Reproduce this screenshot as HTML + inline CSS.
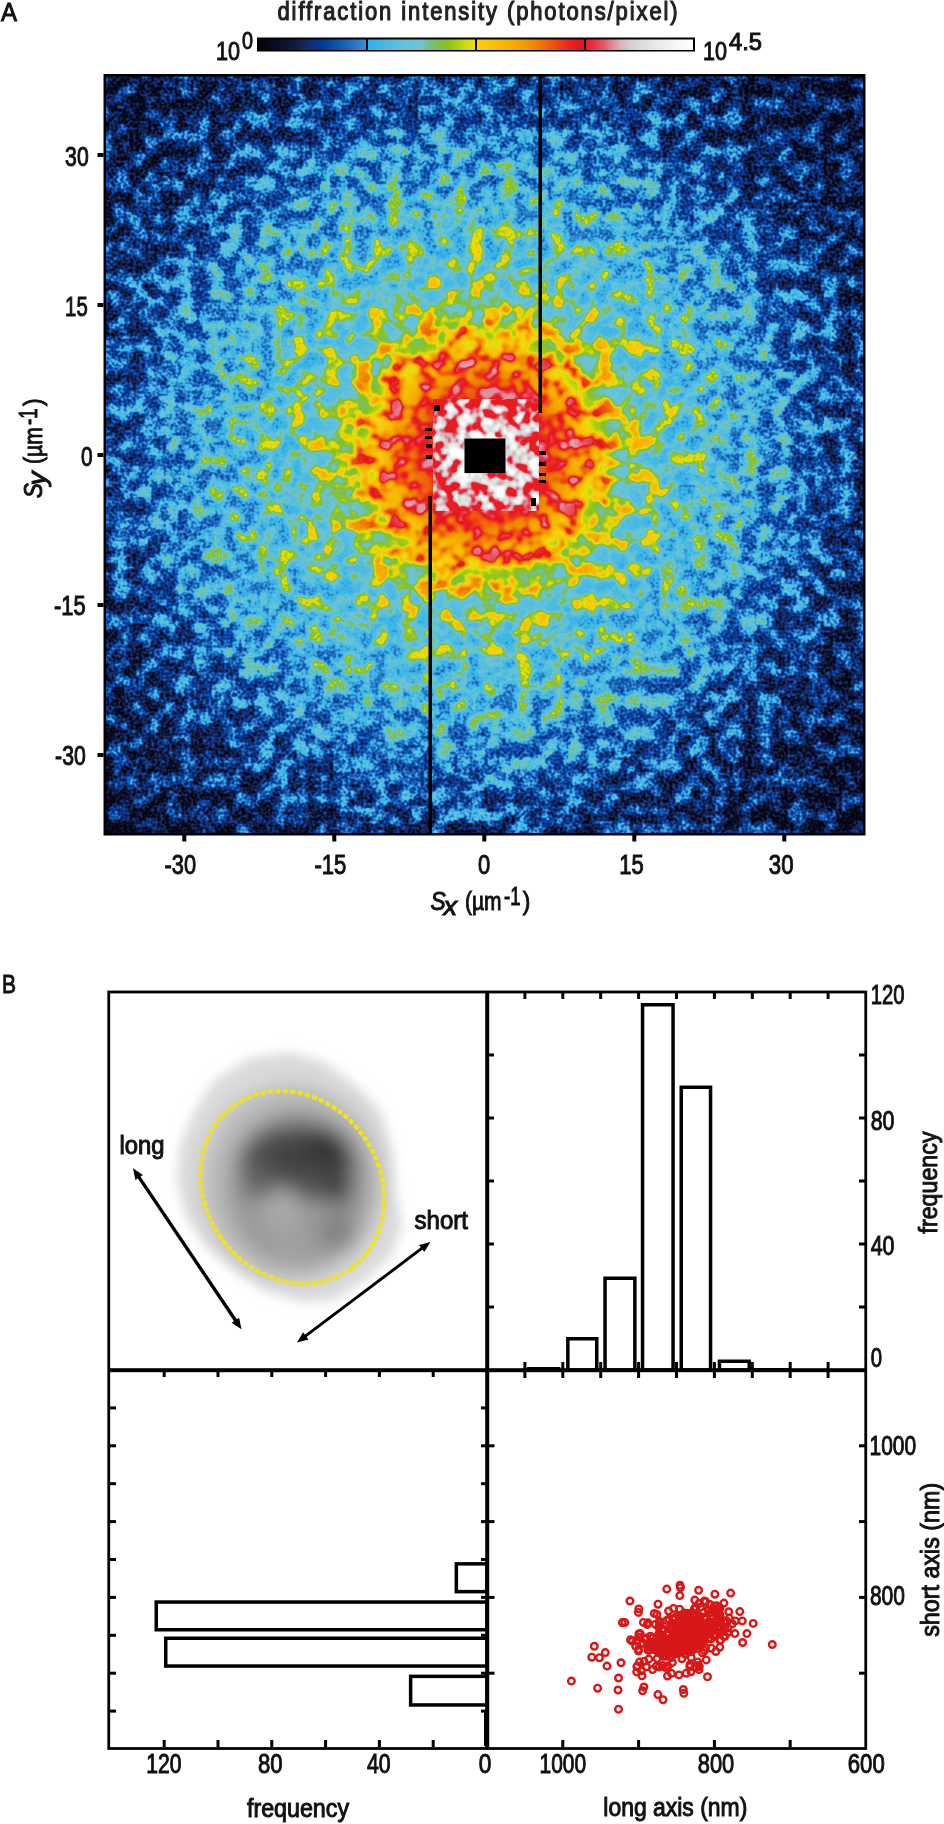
<!DOCTYPE html>
<html><head><meta charset="utf-8"><title>Figure</title>
<style>html,body{margin:0;padding:0;background:#fff;width:944px;height:1824px;overflow:hidden} svg{display:block;will-change:transform} text{font-family:"Liberation Sans", sans-serif}</style>
</head><body>
<svg width="944" height="1824" viewBox="0 0 944 1824" font-family='"Liberation Sans", sans-serif'><defs>
<linearGradient id="cb1" x1="0" x2="1" y1="0" y2="0"><stop offset="0.000" stop-color="rgb(5,5,16)"/><stop offset="0.083" stop-color="rgb(7,8,25)"/><stop offset="0.167" stop-color="rgb(9,11,34)"/><stop offset="0.250" stop-color="rgb(13,19,47)"/><stop offset="0.333" stop-color="rgb(18,27,62)"/><stop offset="0.417" stop-color="rgb(23,38,83)"/><stop offset="0.500" stop-color="rgb(17,47,123)"/><stop offset="0.583" stop-color="rgb(0,56,152)"/><stop offset="0.667" stop-color="rgb(10,71,162)"/><stop offset="0.750" stop-color="rgb(20,87,174)"/><stop offset="0.833" stop-color="rgb(28,105,187)"/><stop offset="0.917" stop-color="rgb(42,124,201)"/><stop offset="1.000" stop-color="rgb(58,144,216)"/></linearGradient>
<linearGradient id="cb2" x1="0" x2="1" y1="0" y2="0"><stop offset="0.000" stop-color="rgb(48,176,232)"/><stop offset="0.083" stop-color="rgb(61,181,229)"/><stop offset="0.167" stop-color="rgb(75,186,225)"/><stop offset="0.250" stop-color="rgb(86,190,222)"/><stop offset="0.333" stop-color="rgb(96,193,219)"/><stop offset="0.417" stop-color="rgb(105,196,215)"/><stop offset="0.500" stop-color="rgb(112,196,208)"/><stop offset="0.583" stop-color="rgb(115,192,131)"/><stop offset="0.667" stop-color="rgb(131,192,59)"/><stop offset="0.750" stop-color="rgb(144,192,32)"/><stop offset="0.833" stop-color="rgb(171,205,19)"/><stop offset="0.917" stop-color="rgb(208,219,16)"/><stop offset="1.000" stop-color="rgb(240,224,0)"/></linearGradient>
<linearGradient id="cb3" x1="0" x2="1" y1="0" y2="0"><stop offset="0.000" stop-color="rgb(248,208,16)"/><stop offset="0.083" stop-color="rgb(248,199,12)"/><stop offset="0.167" stop-color="rgb(248,191,7)"/><stop offset="0.250" stop-color="rgb(248,182,3)"/><stop offset="0.333" stop-color="rgb(247,172,0)"/><stop offset="0.417" stop-color="rgb(244,159,0)"/><stop offset="0.500" stop-color="rgb(240,146,0)"/><stop offset="0.583" stop-color="rgb(240,121,6)"/><stop offset="0.667" stop-color="rgb(240,95,12)"/><stop offset="0.750" stop-color="rgb(238,70,19)"/><stop offset="0.833" stop-color="rgb(234,45,28)"/><stop offset="0.917" stop-color="rgb(232,27,32)"/><stop offset="1.000" stop-color="rgb(232,16,32)"/></linearGradient>
<linearGradient id="cb4" x1="0" x2="1" y1="0" y2="0"><stop offset="0.000" stop-color="rgb(232,32,48)"/><stop offset="0.083" stop-color="rgb(232,55,71)"/><stop offset="0.167" stop-color="rgb(230,87,102)"/><stop offset="0.250" stop-color="rgb(221,140,151)"/><stop offset="0.333" stop-color="rgb(216,183,189)"/><stop offset="0.417" stop-color="rgb(216,203,206)"/><stop offset="0.500" stop-color="rgb(219,219,219)"/><stop offset="0.583" stop-color="rgb(226,226,226)"/><stop offset="0.667" stop-color="rgb(234,234,234)"/><stop offset="0.750" stop-color="rgb(240,240,240)"/><stop offset="0.833" stop-color="rgb(245,245,245)"/><stop offset="0.917" stop-color="rgb(250,250,250)"/><stop offset="1.000" stop-color="rgb(255,255,255)"/></linearGradient>
<radialGradient id="rg" gradientUnits="userSpaceOnUse" cx="466" cy="447" fx="487" fy="456" r="560"><stop offset="0.0000" stop-color="rgb(201.0,0.0,127.5)"/><stop offset="0.0714" stop-color="rgb(182.7,0.0,127.5)"/><stop offset="0.0982" stop-color="rgb(171.9,0.0,114.8)"/><stop offset="0.1250" stop-color="rgb(166.2,0.0,140.2)"/><stop offset="0.1607" stop-color="rgb(153.8,0.0,204.0)"/><stop offset="0.1964" stop-color="rgb(135.2,12.8,242.2)"/><stop offset="0.2321" stop-color="rgb(115.2,25.5,242.2)"/><stop offset="0.2679" stop-color="rgb(100.7,38.2,229.5)"/><stop offset="0.3214" stop-color="rgb(88.1,63.8,216.8)"/><stop offset="0.3929" stop-color="rgb(77.3,102.0,204.0)"/><stop offset="0.4464" stop-color="rgb(68.6,127.5,198.9)"/><stop offset="0.5000" stop-color="rgb(59.9,153.0,193.8)"/><stop offset="0.5536" stop-color="rgb(49.8,178.5,183.6)"/><stop offset="0.6250" stop-color="rgb(37.0,204.0,173.4)"/><stop offset="0.7143" stop-color="rgb(28.2,216.8,158.1)"/><stop offset="0.8036" stop-color="rgb(23.5,216.8,147.9)"/><stop offset="0.8929" stop-color="rgb(22.5,204.0,137.7)"/><stop offset="1.0000" stop-color="rgb(18.8,204.0,127.5)"/></radialGradient>
<filter id="diff" filterUnits="userSpaceOnUse" x="104" y="75" width="761" height="760" color-interpolation-filters="sRGB">
<feTurbulence type="fractalNoise" baseFrequency="0.062" numOctaves="2" seed="11" result="t1"/>
<feColorMatrix in="t1" type="matrix" values="0 0 0 0 0  0 0 0 0 0  1 0 0 0 0  0 0 0 0 1" result="s0"/>
<feComponentTransfer in="s0" result="s1"><feFuncB type="linear" slope="2.4" intercept="-0.7"/></feComponentTransfer>
<feComponentTransfer in="s1" result="s2"><feFuncB type="table" tableValues="0.0 0.025 0.076 0.146 0.231 0.33 0.442 0.565 0.7 0.845 1.0"/></feComponentTransfer>
<feTurbulence type="fractalNoise" baseFrequency="0.33" numOctaves="1" seed="5" result="t2"/>
<feColorMatrix in="t2" type="matrix" values="0 0 0 0 1  0 1 0 0 0  0 0 0 0 0  0 0 0 0 1" result="f0"/>
<feComposite in="s2" in2="f0" operator="arithmetic" k1="0" k2="1" k3="1" k4="0" result="N"/>
<feComposite in="SourceGraphic" in2="N" operator="arithmetic" k1="1" k2="0" k3="0" k4="0" result="P"/>
<feColorMatrix in="P" type="matrix" values="1.4 0.4 0.3 0 -0.26  1.4 0.4 0.3 0 -0.26  1.4 0.4 0.3 0 -0.26  0 0 0 0 1" result="V"/>
<feComponentTransfer in="V"><feFuncR type="table" tableValues="0.020 0.025 0.030 0.040 0.053 0.068 0.088 0.080 0.056 0.001 0.031 0.062 0.089 0.115 0.156 0.206 0.198 0.238 0.278 0.317 0.347 0.376 0.406 0.427 0.439 0.453 0.502 0.542 0.600 0.679 0.793 0.901 0.973 0.973 0.973 0.973 0.973 0.968 0.958 0.948 0.941 0.941 0.941 0.939 0.927 0.914 0.910 0.910 0.910 0.910 0.904 0.879 0.854 0.847 0.847 0.851 0.874 0.897 0.920 0.940 0.955 0.970 0.985 1.000"/><feFuncG type="table" tableValues="0.020 0.028 0.036 0.054 0.077 0.103 0.135 0.164 0.192 0.221 0.267 0.313 0.366 0.419 0.477 0.538 0.694 0.709 0.724 0.738 0.748 0.758 0.768 0.769 0.763 0.753 0.753 0.753 0.770 0.810 0.850 0.878 0.811 0.784 0.758 0.731 0.705 0.672 0.632 0.592 0.540 0.460 0.381 0.302 0.227 0.152 0.104 0.071 0.156 0.228 0.320 0.481 0.643 0.734 0.797 0.851 0.874 0.897 0.920 0.940 0.955 0.970 0.985 1.000"/><feFuncB type="table" tableValues="0.063 0.089 0.116 0.151 0.191 0.235 0.293 0.395 0.513 0.597 0.627 0.658 0.698 0.738 0.781 0.827 0.907 0.897 0.887 0.877 0.867 0.858 0.848 0.828 0.730 0.497 0.250 0.170 0.108 0.068 0.063 0.040 0.060 0.047 0.034 0.020 0.007 0.000 0.000 0.000 0.006 0.026 0.046 0.067 0.092 0.117 0.125 0.125 0.219 0.290 0.379 0.529 0.678 0.757 0.807 0.851 0.874 0.897 0.920 0.940 0.955 0.970 0.985 1.000"/></feComponentTransfer>
</filter>
<filter id="ctr" filterUnits="userSpaceOnUse" x="430" y="396" width="112" height="118" color-interpolation-filters="sRGB">
<feTurbulence type="fractalNoise" baseFrequency="0.085" numOctaves="2" seed="21" result="t"/>
<feColorMatrix in="t" type="matrix" values="1 0 0 0 0  1 0 0 0 0  1 0 0 0 0  0 0 0 0 1" result="t1"/>
<feComposite in="SourceGraphic" in2="t1" operator="arithmetic" k1="0" k2="1" k3="2.6" k4="-1.62" result="u"/>
<feComponentTransfer in="u"><feFuncR type="table" tableValues="0.910 0.910 0.910 0.910 0.910 0.910 0.910 0.910 0.900 0.887 0.873 0.859 0.847 0.847 0.847 0.847 0.847 0.855 0.868 0.881 0.894 0.906 0.919 0.932 0.941 0.949 0.958 0.966 0.975 0.983 0.992 1.000"/><feFuncG type="table" tableValues="0.115 0.096 0.078 0.083 0.150 0.190 0.230 0.269 0.343 0.434 0.524 0.615 0.696 0.731 0.765 0.800 0.835 0.855 0.868 0.881 0.894 0.906 0.919 0.932 0.941 0.949 0.958 0.966 0.975 0.983 0.992 1.000"/><feFuncB type="table" tableValues="0.125 0.125 0.125 0.146 0.213 0.253 0.292 0.332 0.401 0.485 0.568 0.652 0.726 0.754 0.782 0.810 0.837 0.855 0.868 0.881 0.894 0.906 0.919 0.932 0.941 0.949 0.958 0.966 0.975 0.983 0.992 1.000"/></feComponentTransfer>
<feComposite in2="SourceGraphic" operator="in"/>
</filter>
<filter id="blur6" x="-50%" y="-50%" width="200%" height="200%"><feGaussianBlur stdDeviation="6"/></filter>
<filter id="blur10" x="-50%" y="-50%" width="200%" height="200%"><feGaussianBlur stdDeviation="10"/></filter>
<filter id="blur12" x="-50%" y="-50%" width="200%" height="200%"><feGaussianBlur stdDeviation="12"/></filter>
<filter id="blur7" x="-50%" y="-50%" width="200%" height="200%"><feGaussianBlur stdDeviation="7"/></filter>
<marker id="ah" viewBox="0 0 10 10" refX="9" refY="5" markerWidth="4" markerHeight="4" orient="auto-start-reverse"><path d="M0,0 L10,5 L0,10 z" fill="#000"/></marker>
</defs>
<text x="1" y="21" font-size="26" text-anchor="start" font-weight="normal" fill="#111" stroke="#111" stroke-width="1.0" textLength="16" lengthAdjust="spacingAndGlyphs" >A</text>
<text x="277.5" y="20" font-size="25.5" text-anchor="start" font-weight="normal" fill="#222" stroke="#222" stroke-width="1.2" textLength="402" lengthAdjust="spacingAndGlyphs" letter-spacing="2.2">diffraction intensity (photons/pixel)</text>
<rect x="257" y="37.5" width="438" height="14" fill="#000"/>
<rect x="259" y="39.5" width="107" height="10.5" fill="url(#cb1)"/>
<rect x="368" y="39.5" width="107" height="10.5" fill="url(#cb2)"/>
<rect x="477" y="39.5" width="107" height="10.5" fill="url(#cb3)"/>
<rect x="586" y="39.5" width="107" height="10.5" fill="url(#cb4)"/>
<text x="216" y="59.5" font-size="26" text-anchor="start" font-weight="normal" fill="#111" stroke="#111" stroke-width="1.0" textLength="24" lengthAdjust="spacingAndGlyphs" >10</text>
<text x="242" y="49" font-size="24" text-anchor="start" font-weight="normal" fill="#111" stroke="#111" stroke-width="1.0" textLength="11" lengthAdjust="spacingAndGlyphs" >0</text>
<text x="703" y="60" font-size="26" text-anchor="start" font-weight="normal" fill="#111" stroke="#111" stroke-width="1.0" textLength="24" lengthAdjust="spacingAndGlyphs" >10</text>
<text x="729" y="50" font-size="24" text-anchor="start" font-weight="normal" fill="#111" stroke="#111" stroke-width="1.0" textLength="33" lengthAdjust="spacingAndGlyphs" >4.5</text>
<g filter="url(#diff)"><rect x="104" y="75" width="761" height="760" fill="url(#rg)"/><rect x="434" y="400" width="104" height="110" fill="rgb(183.3,0,255)"/></g>
<radialGradient id="cg" gradientUnits="userSpaceOnUse" cx="485" cy="456" r="75"><stop offset="0.3" stop-color="#fff"/><stop offset="0.72" stop-color="rgb(150,150,150)"/><stop offset="1" stop-color="rgb(110,110,110)"/></radialGradient>
<rect x="433" y="399" width="106" height="112" fill="url(#cg)" filter="url(#ctr)"/>
<rect x="464.5" y="438.5" width="41" height="34.5" fill="#000"/>
<rect x="538.5" y="75" width="3.5" height="338" fill="#000"/>
<rect x="428.5" y="496" width="3.5" height="339" fill="#000"/>
<rect x="434" y="405" width="6" height="6" fill="#000"/>
<rect x="425" y="428" width="7" height="3" fill="#000"/>
<rect x="425" y="436" width="7" height="3" fill="#000"/>
<rect x="426" y="444" width="6" height="4" fill="#000"/>
<rect x="426" y="455" width="6" height="4" fill="#000"/>
<rect x="539" y="451" width="7" height="4" fill="#000"/>
<rect x="539" y="462" width="7" height="4" fill="#000"/>
<rect x="539" y="473" width="7" height="3" fill="#000"/>
<rect x="539" y="480" width="7" height="3" fill="#000"/>
<rect x="531" y="498" width="5" height="8" fill="#000"/>
<rect x="104.75" y="75.25" width="759.5" height="759" fill="none" stroke="#000" stroke-width="2.5"/>
<rect x="97.5" y="153" width="6" height="4" fill="#000"/>
<rect x="97.5" y="303" width="6" height="4" fill="#000"/>
<rect x="97.5" y="453" width="6" height="4" fill="#000"/>
<rect x="97.5" y="603" width="6" height="4" fill="#000"/>
<rect x="97.5" y="753" width="6" height="4" fill="#000"/>
<rect x="182.3" y="835" width="4" height="6.5" fill="#000"/>
<rect x="332.3" y="835" width="4" height="6.5" fill="#000"/>
<rect x="482.3" y="835" width="4" height="6.5" fill="#000"/>
<rect x="632.3" y="835" width="4" height="6.5" fill="#000"/>
<rect x="782.3" y="835" width="4" height="6.5" fill="#000"/>
<text x="65.1" y="165.5" font-size="27" text-anchor="start" font-weight="normal" fill="#111" stroke="#111" stroke-width="1.0" textLength="23.6" lengthAdjust="spacingAndGlyphs" >30</text>
<text x="65.1" y="315.5" font-size="27" text-anchor="start" font-weight="normal" fill="#111" stroke="#111" stroke-width="1.0" textLength="22.6" lengthAdjust="spacingAndGlyphs" >15</text>
<text x="81.1" y="465.5" font-size="27" text-anchor="start" font-weight="normal" fill="#111" stroke="#111" stroke-width="1.0" textLength="11.6" lengthAdjust="spacingAndGlyphs" >0</text>
<text x="54.1" y="615" font-size="27" text-anchor="start" font-weight="normal" fill="#111" stroke="#111" stroke-width="1.0" textLength="31.6" lengthAdjust="spacingAndGlyphs" >-15</text>
<text x="55.1" y="765" font-size="27" text-anchor="start" font-weight="normal" fill="#111" stroke="#111" stroke-width="1.0" textLength="30.6" lengthAdjust="spacingAndGlyphs" >-30</text>
<text x="164.5" y="873.8" font-size="27" text-anchor="start" font-weight="normal" fill="#111" stroke="#111" stroke-width="1.0" textLength="31.500000000000007" lengthAdjust="spacingAndGlyphs" >-30</text>
<text x="314.40000000000003" y="873.8" font-size="27" text-anchor="start" font-weight="normal" fill="#111" stroke="#111" stroke-width="1.0" textLength="31.900000000000013" lengthAdjust="spacingAndGlyphs" >-15</text>
<text x="478.1" y="873.8" font-size="27" text-anchor="start" font-weight="normal" fill="#111" stroke="#111" stroke-width="1.0" textLength="12.200000000000022" lengthAdjust="spacingAndGlyphs" >0</text>
<text x="619.3000000000001" y="873.8" font-size="27" text-anchor="start" font-weight="normal" fill="#111" stroke="#111" stroke-width="1.0" textLength="24.399999999999956" lengthAdjust="spacingAndGlyphs" >15</text>
<text x="768.8000000000001" y="873.8" font-size="27" text-anchor="start" font-weight="normal" fill="#111" stroke="#111" stroke-width="1.0" textLength="24.69999999999991" lengthAdjust="spacingAndGlyphs" >30</text>
<g transform="translate(431.4,910)"><text x="-0.8" y="0" font-size="26" text-anchor="start" font-weight="normal" fill="#111" stroke="#111" stroke-width="1.0" textLength="15.2" lengthAdjust="spacingAndGlyphs" font-style="italic">S</text><text x="12.2" y="5.3" font-size="26" text-anchor="start" font-weight="normal" fill="#111" stroke="#111" stroke-width="1.0" textLength="13.6" lengthAdjust="spacingAndGlyphs" font-style="italic">x</text><text x="33.6" y="0" font-size="26" text-anchor="start" font-weight="normal" fill="#111" stroke="#111" stroke-width="1.0" textLength="36.6" lengthAdjust="spacingAndGlyphs" >(µm</text><text x="72.6" y="-5.5" font-size="26" text-anchor="start" font-weight="normal" fill="#111" stroke="#111" stroke-width="1.0" textLength="16.5" lengthAdjust="spacingAndGlyphs" >-1</text><text x="91.4" y="0" font-size="26" text-anchor="start" font-weight="normal" fill="#111" stroke="#111" stroke-width="1.0" textLength="7.6" lengthAdjust="spacingAndGlyphs" >)</text></g>
<g transform="translate(42.3,497.5) rotate(-90)"><text x="-0.8" y="0" font-size="26" text-anchor="start" font-weight="normal" fill="#111" stroke="#111" stroke-width="1.0" textLength="15.2" lengthAdjust="spacingAndGlyphs" font-style="italic">S</text><text x="12.2" y="4.0" font-size="26" text-anchor="start" font-weight="normal" fill="#111" stroke="#111" stroke-width="1.0" textLength="13.6" lengthAdjust="spacingAndGlyphs" font-style="italic">y</text><text x="33.6" y="0" font-size="26" text-anchor="start" font-weight="normal" fill="#111" stroke="#111" stroke-width="1.0" textLength="36.6" lengthAdjust="spacingAndGlyphs" >(µm</text><text x="72.6" y="-5.5" font-size="26" text-anchor="start" font-weight="normal" fill="#111" stroke="#111" stroke-width="1.0" textLength="16.5" lengthAdjust="spacingAndGlyphs" >-1</text><text x="91.4" y="0" font-size="26" text-anchor="start" font-weight="normal" fill="#111" stroke="#111" stroke-width="1.0" textLength="7.6" lengthAdjust="spacingAndGlyphs" >)</text></g>
<text x="2" y="992.5" font-size="26" text-anchor="start" font-weight="normal" fill="#111" stroke="#111" stroke-width="1.0" textLength="14" lengthAdjust="spacingAndGlyphs" >B</text>
<g filter="url(#blur6)"><path d="M250,1058 L290,1052 L325,1062 L355,1085 L380,1110 L392,1150 L395,1190 L402,1225 L392,1255 L365,1280 L335,1300 L300,1302 L265,1290 L235,1270 L205,1245 L185,1215 L177,1180 L180,1145 L195,1110 L215,1080 Z" fill="#dadada"/></g>
<g filter="url(#blur10)"><ellipse cx="292" cy="1182" rx="90" ry="98" fill="#bababa"/><ellipse cx="298" cy="1188" rx="72" ry="80" fill="#9a9a9a"/><ellipse cx="298" cy="1163" rx="58" ry="40" fill="#505050"/><ellipse cx="325" cy="1150" rx="22" ry="20" fill="#363636"/><ellipse cx="290" cy="1157" rx="20" ry="15" fill="#404040"/><ellipse cx="258" cy="1182" rx="16" ry="18" fill="#606060"/><ellipse cx="338" cy="1185" rx="15" ry="21" fill="#454545"/><ellipse cx="338" cy="1232" rx="18" ry="18" fill="#808080"/><ellipse cx="282" cy="1210" rx="22" ry="22" fill="#a8a8a8"/><ellipse cx="292" cy="1248" rx="20" ry="14" fill="#a2a2a2"/></g>
<ellipse cx="292.4" cy="1187.2" rx="100.2" ry="87.6" transform="rotate(55 292.4 1187.2)" fill="none" stroke="#f2e21e" stroke-width="4.8" stroke-linecap="round" stroke-dasharray="0.9 6.5"/>
<line x1="137.9" y1="1175.6" x2="236.6" y2="1322.0" stroke="#000" stroke-width="3.4"/><path d="M133.0,1168.3 L135.4,1179.9 L142.9,1174.9 Z" fill="#000"/><path d="M241.5,1329.3 L231.6,1322.7 L239.1,1317.7 Z" fill="#000"/>
<line x1="304.0" y1="1337.2" x2="423.4" y2="1247.2" stroke="#000" stroke-width="2.9"/><path d="M297.0,1342.5 L308.5,1339.5 L303.1,1332.3 Z" fill="#000"/><path d="M430.4,1241.9 L424.3,1252.1 L418.9,1244.9 Z" fill="#000"/>
<text x="119.5" y="1154" font-size="25" text-anchor="start" font-weight="normal" fill="#111" stroke="#111" stroke-width="1.0" textLength="45" lengthAdjust="spacingAndGlyphs" >long</text>
<text x="414.5" y="1228.5" font-size="25" text-anchor="start" font-weight="normal" fill="#111" stroke="#111" stroke-width="1.0" textLength="53.5" lengthAdjust="spacingAndGlyphs" >short</text>
<rect x="528.75" y="1368.75" width="29.899999999999977" height="1.25" fill="#fff" stroke="#000" stroke-width="3.5"/>
<rect x="567.85" y="1338.75" width="28.899999999999977" height="31.25" fill="#fff" stroke="#000" stroke-width="3.5"/>
<rect x="605.05" y="1278.25" width="29.800000000000068" height="91.75" fill="#fff" stroke="#000" stroke-width="3.5"/>
<rect x="642.55" y="1004.75" width="30.5" height="365.25" fill="#fff" stroke="#000" stroke-width="3.5"/>
<rect x="681.25" y="1087.25" width="29.299999999999955" height="282.75" fill="#fff" stroke="#000" stroke-width="3.5"/>
<rect x="719.45" y="1361.25" width="29.799999999999955" height="8.75" fill="#fff" stroke="#000" stroke-width="3.5"/>
<rect x="755.95" y="1369.75" width="31.5" height="0.25" fill="#fff" stroke="#000" stroke-width="3.5"/>
<rect x="456.35" y="1563.85" width="30.649999999999977" height="27.800000000000182" fill="#fff" stroke="#000" stroke-width="3.5"/>
<rect x="156.25" y="1602.05" width="330.75" height="27.700000000000045" fill="#fff" stroke="#000" stroke-width="3.5"/>
<rect x="165.75" y="1638.25" width="321.25" height="27.799999999999955" fill="#fff" stroke="#000" stroke-width="3.5"/>
<rect x="410.65" y="1676.35" width="76.35000000000002" height="28.600000000000136" fill="#fff" stroke="#000" stroke-width="3.5"/>
<rect x="485.75" y="1713.35" width="1.25" height="30.90000000000009" fill="#fff" stroke="#000" stroke-width="3.5"/>
<g fill="none" stroke="#d81818" stroke-width="2.4"><circle cx="571.4" cy="1681.1" r="3.3"/><circle cx="597.6" cy="1688.2" r="3.3"/><circle cx="618.5" cy="1709.3" r="3.3"/><circle cx="618.0" cy="1690.0" r="3.3"/><circle cx="594.3" cy="1646.3" r="3.3"/><circle cx="591.8" cy="1657.2" r="3.3"/><circle cx="599.4" cy="1657.7" r="3.3"/><circle cx="605.3" cy="1652.6" r="3.3"/><circle cx="607.0" cy="1666.1" r="3.3"/><circle cx="629.9" cy="1601.0" r="3.3"/><circle cx="638.8" cy="1608.9" r="3.3"/><circle cx="622.3" cy="1622.6" r="3.3"/><circle cx="624.8" cy="1622.6" r="3.3"/><circle cx="666.8" cy="1589.1" r="3.3"/><circle cx="680.0" cy="1585.3" r="3.3"/><circle cx="680.5" cy="1587.5" r="3.3"/><circle cx="698.6" cy="1590.3" r="3.3"/><circle cx="753.2" cy="1623.4" r="3.3"/><circle cx="746.9" cy="1633.6" r="3.3"/><circle cx="742.6" cy="1642.5" r="3.3"/><circle cx="772.3" cy="1644.5" r="3.3"/><circle cx="735.4" cy="1620.9" r="3.3"/><circle cx="657.9" cy="1694.6" r="3.3"/><circle cx="663.0" cy="1699.7" r="3.3"/><circle cx="683.3" cy="1689.5" r="3.3"/><circle cx="683.8" cy="1693.3" r="3.3"/><circle cx="643.9" cy="1687.0" r="3.3"/><circle cx="642.6" cy="1690.8" r="3.3"/><circle cx="621.0" cy="1662.8" r="3.3"/><circle cx="618.5" cy="1678.0" r="3.3"/><circle cx="707.5" cy="1676.8" r="3.3"/><circle cx="699.3" cy="1666.6" r="3.3"/><circle cx="691.0" cy="1671.7" r="3.3"/><circle cx="677.9" cy="1644.7" r="3.3"/><circle cx="678.6" cy="1632.1" r="3.3"/><circle cx="661.7" cy="1639.2" r="3.3"/><circle cx="710.7" cy="1632.5" r="3.3"/><circle cx="708.9" cy="1630.4" r="3.3"/><circle cx="693.5" cy="1634.6" r="3.3"/><circle cx="644.0" cy="1661.2" r="3.3"/><circle cx="696.2" cy="1638.4" r="3.3"/><circle cx="643.4" cy="1622.4" r="3.3"/><circle cx="662.6" cy="1635.1" r="3.3"/><circle cx="691.3" cy="1631.9" r="3.3"/><circle cx="696.5" cy="1621.2" r="3.3"/><circle cx="691.4" cy="1638.4" r="3.3"/><circle cx="668.1" cy="1666.1" r="3.3"/><circle cx="697.4" cy="1648.5" r="3.3"/><circle cx="669.1" cy="1628.9" r="3.3"/><circle cx="675.7" cy="1636.2" r="3.3"/><circle cx="699.2" cy="1633.7" r="3.3"/><circle cx="673.3" cy="1624.2" r="3.3"/><circle cx="671.5" cy="1657.5" r="3.3"/><circle cx="664.6" cy="1645.1" r="3.3"/><circle cx="694.2" cy="1609.2" r="3.3"/><circle cx="685.2" cy="1654.2" r="3.3"/><circle cx="635.7" cy="1646.3" r="3.3"/><circle cx="681.5" cy="1623.6" r="3.3"/><circle cx="695.9" cy="1630.1" r="3.3"/><circle cx="648.8" cy="1659.1" r="3.3"/><circle cx="700.1" cy="1643.8" r="3.3"/><circle cx="718.6" cy="1628.9" r="3.3"/><circle cx="686.9" cy="1614.6" r="3.3"/><circle cx="698.8" cy="1620.9" r="3.3"/><circle cx="673.1" cy="1619.6" r="3.3"/><circle cx="660.8" cy="1634.8" r="3.3"/><circle cx="714.9" cy="1594.2" r="3.3"/><circle cx="649.0" cy="1650.3" r="3.3"/><circle cx="718.6" cy="1632.1" r="3.3"/><circle cx="638.4" cy="1612.4" r="3.3"/><circle cx="692.6" cy="1621.1" r="3.3"/><circle cx="657.1" cy="1658.6" r="3.3"/><circle cx="710.4" cy="1628.5" r="3.3"/><circle cx="689.9" cy="1639.5" r="3.3"/><circle cx="722.3" cy="1631.5" r="3.3"/><circle cx="696.4" cy="1639.1" r="3.3"/><circle cx="646.4" cy="1666.8" r="3.3"/><circle cx="706.9" cy="1635.3" r="3.3"/><circle cx="636.6" cy="1641.3" r="3.3"/><circle cx="704.2" cy="1601.1" r="3.3"/><circle cx="679.6" cy="1651.8" r="3.3"/><circle cx="652.5" cy="1669.6" r="3.3"/><circle cx="697.2" cy="1628.3" r="3.3"/><circle cx="691.8" cy="1642.1" r="3.3"/><circle cx="686.9" cy="1651.2" r="3.3"/><circle cx="668.1" cy="1634.1" r="3.3"/><circle cx="709.0" cy="1627.1" r="3.3"/><circle cx="662.9" cy="1656.2" r="3.3"/><circle cx="719.2" cy="1616.6" r="3.3"/><circle cx="650.9" cy="1644.0" r="3.3"/><circle cx="680.4" cy="1631.7" r="3.3"/><circle cx="717.7" cy="1608.4" r="3.3"/><circle cx="714.3" cy="1605.9" r="3.3"/><circle cx="665.1" cy="1650.8" r="3.3"/><circle cx="711.1" cy="1638.9" r="3.3"/><circle cx="692.3" cy="1634.4" r="3.3"/><circle cx="687.7" cy="1642.4" r="3.3"/><circle cx="679.8" cy="1640.6" r="3.3"/><circle cx="697.7" cy="1630.4" r="3.3"/><circle cx="702.3" cy="1637.4" r="3.3"/><circle cx="732.3" cy="1623.8" r="3.3"/><circle cx="673.7" cy="1632.8" r="3.3"/><circle cx="683.7" cy="1649.0" r="3.3"/><circle cx="675.9" cy="1643.5" r="3.3"/><circle cx="657.0" cy="1647.6" r="3.3"/><circle cx="693.6" cy="1635.4" r="3.3"/><circle cx="673.7" cy="1648.3" r="3.3"/><circle cx="690.8" cy="1624.9" r="3.3"/><circle cx="742.3" cy="1620.9" r="3.3"/><circle cx="670.7" cy="1637.9" r="3.3"/><circle cx="678.6" cy="1635.9" r="3.3"/><circle cx="708.2" cy="1609.4" r="3.3"/><circle cx="682.4" cy="1649.8" r="3.3"/><circle cx="704.5" cy="1650.5" r="3.3"/><circle cx="643.2" cy="1643.3" r="3.3"/><circle cx="675.8" cy="1647.1" r="3.3"/><circle cx="710.1" cy="1604.6" r="3.3"/><circle cx="700.4" cy="1607.2" r="3.3"/><circle cx="688.2" cy="1651.5" r="3.3"/><circle cx="680.4" cy="1639.1" r="3.3"/><circle cx="703.1" cy="1630.7" r="3.3"/><circle cx="681.9" cy="1658.7" r="3.3"/><circle cx="709.2" cy="1622.2" r="3.3"/><circle cx="706.0" cy="1623.7" r="3.3"/><circle cx="687.2" cy="1644.5" r="3.3"/><circle cx="689.3" cy="1642.8" r="3.3"/><circle cx="647.3" cy="1624.6" r="3.3"/><circle cx="698.8" cy="1615.6" r="3.3"/><circle cx="659.4" cy="1621.2" r="3.3"/><circle cx="714.4" cy="1636.1" r="3.3"/><circle cx="719.4" cy="1609.1" r="3.3"/><circle cx="684.0" cy="1617.9" r="3.3"/><circle cx="702.4" cy="1652.7" r="3.3"/><circle cx="662.6" cy="1665.5" r="3.3"/><circle cx="707.7" cy="1624.4" r="3.3"/><circle cx="636.7" cy="1671.9" r="3.3"/><circle cx="681.7" cy="1626.7" r="3.3"/><circle cx="693.6" cy="1638.0" r="3.3"/><circle cx="720.0" cy="1607.7" r="3.3"/><circle cx="711.3" cy="1648.2" r="3.3"/><circle cx="718.9" cy="1620.7" r="3.3"/><circle cx="666.1" cy="1656.2" r="3.3"/><circle cx="686.8" cy="1635.9" r="3.3"/><circle cx="718.2" cy="1619.7" r="3.3"/><circle cx="639.5" cy="1662.1" r="3.3"/><circle cx="691.6" cy="1623.3" r="3.3"/><circle cx="683.8" cy="1647.6" r="3.3"/><circle cx="685.9" cy="1654.3" r="3.3"/><circle cx="682.5" cy="1651.1" r="3.3"/><circle cx="719.8" cy="1647.2" r="3.3"/><circle cx="667.9" cy="1653.6" r="3.3"/><circle cx="639.0" cy="1633.8" r="3.3"/><circle cx="636.9" cy="1666.7" r="3.3"/><circle cx="654.4" cy="1644.7" r="3.3"/><circle cx="679.4" cy="1636.1" r="3.3"/><circle cx="669.8" cy="1643.2" r="3.3"/><circle cx="727.0" cy="1621.3" r="3.3"/><circle cx="696.7" cy="1645.8" r="3.3"/><circle cx="679.2" cy="1617.7" r="3.3"/><circle cx="670.7" cy="1655.5" r="3.3"/><circle cx="644.5" cy="1639.2" r="3.3"/><circle cx="708.2" cy="1638.8" r="3.3"/><circle cx="684.2" cy="1647.0" r="3.3"/><circle cx="688.0" cy="1616.0" r="3.3"/><circle cx="646.5" cy="1637.9" r="3.3"/><circle cx="706.1" cy="1619.1" r="3.3"/><circle cx="662.3" cy="1630.7" r="3.3"/><circle cx="647.2" cy="1645.5" r="3.3"/><circle cx="655.7" cy="1649.9" r="3.3"/><circle cx="668.6" cy="1611.0" r="3.3"/><circle cx="701.4" cy="1625.1" r="3.3"/><circle cx="630.5" cy="1639.7" r="3.3"/><circle cx="691.0" cy="1625.8" r="3.3"/><circle cx="702.7" cy="1640.0" r="3.3"/><circle cx="700.0" cy="1634.6" r="3.3"/><circle cx="716.0" cy="1634.2" r="3.3"/><circle cx="694.8" cy="1600.1" r="3.3"/><circle cx="705.5" cy="1647.5" r="3.3"/><circle cx="676.9" cy="1630.3" r="3.3"/><circle cx="730.6" cy="1593.1" r="3.3"/><circle cx="695.3" cy="1667.6" r="3.3"/><circle cx="661.7" cy="1652.8" r="3.3"/><circle cx="729.3" cy="1618.1" r="3.3"/><circle cx="697.5" cy="1644.0" r="3.3"/><circle cx="662.3" cy="1640.9" r="3.3"/><circle cx="691.0" cy="1645.0" r="3.3"/><circle cx="683.2" cy="1632.3" r="3.3"/><circle cx="659.6" cy="1637.7" r="3.3"/><circle cx="705.4" cy="1629.4" r="3.3"/><circle cx="663.5" cy="1629.2" r="3.3"/><circle cx="698.9" cy="1637.2" r="3.3"/><circle cx="724.4" cy="1627.9" r="3.3"/><circle cx="682.4" cy="1643.4" r="3.3"/><circle cx="637.3" cy="1666.1" r="3.3"/><circle cx="691.8" cy="1621.9" r="3.3"/><circle cx="715.8" cy="1651.5" r="3.3"/><circle cx="650.3" cy="1636.2" r="3.3"/><circle cx="691.0" cy="1635.4" r="3.3"/><circle cx="674.4" cy="1623.6" r="3.3"/><circle cx="734.9" cy="1633.6" r="3.3"/><circle cx="655.3" cy="1624.4" r="3.3"/><circle cx="724.9" cy="1636.2" r="3.3"/><circle cx="727.7" cy="1632.6" r="3.3"/><circle cx="663.1" cy="1645.9" r="3.3"/><circle cx="632.2" cy="1641.1" r="3.3"/><circle cx="682.6" cy="1643.3" r="3.3"/><circle cx="666.5" cy="1639.0" r="3.3"/><circle cx="695.0" cy="1637.0" r="3.3"/><circle cx="699.3" cy="1633.0" r="3.3"/><circle cx="676.2" cy="1649.4" r="3.3"/><circle cx="685.2" cy="1622.2" r="3.3"/><circle cx="669.0" cy="1640.0" r="3.3"/><circle cx="681.4" cy="1638.2" r="3.3"/><circle cx="684.0" cy="1637.6" r="3.3"/><circle cx="680.8" cy="1617.2" r="3.3"/><circle cx="694.1" cy="1647.4" r="3.3"/><circle cx="694.4" cy="1628.7" r="3.3"/><circle cx="694.7" cy="1616.9" r="3.3"/><circle cx="638.5" cy="1651.1" r="3.3"/><circle cx="661.7" cy="1653.5" r="3.3"/><circle cx="658.0" cy="1604.2" r="3.3"/><circle cx="659.1" cy="1667.0" r="3.3"/><circle cx="674.8" cy="1617.5" r="3.3"/><circle cx="665.7" cy="1648.9" r="3.3"/><circle cx="695.9" cy="1633.7" r="3.3"/><circle cx="719.6" cy="1633.7" r="3.3"/><circle cx="683.5" cy="1644.1" r="3.3"/><circle cx="723.7" cy="1636.3" r="3.3"/><circle cx="708.6" cy="1610.6" r="3.3"/><circle cx="680.4" cy="1647.1" r="3.3"/><circle cx="676.9" cy="1653.4" r="3.3"/><circle cx="698.3" cy="1643.9" r="3.3"/><circle cx="678.9" cy="1674.9" r="3.3"/><circle cx="713.8" cy="1621.8" r="3.3"/><circle cx="686.2" cy="1673.2" r="3.3"/><circle cx="675.8" cy="1650.9" r="3.3"/><circle cx="707.5" cy="1627.3" r="3.3"/><circle cx="656.0" cy="1647.2" r="3.3"/><circle cx="692.6" cy="1649.1" r="3.3"/><circle cx="702.8" cy="1629.1" r="3.3"/><circle cx="704.5" cy="1636.3" r="3.3"/><circle cx="688.9" cy="1634.2" r="3.3"/><circle cx="678.2" cy="1647.2" r="3.3"/><circle cx="658.7" cy="1634.0" r="3.3"/><circle cx="684.1" cy="1613.0" r="3.3"/><circle cx="673.5" cy="1608.4" r="3.3"/><circle cx="667.6" cy="1649.0" r="3.3"/><circle cx="697.6" cy="1629.7" r="3.3"/><circle cx="678.4" cy="1615.6" r="3.3"/><circle cx="727.9" cy="1628.1" r="3.3"/><circle cx="710.2" cy="1613.0" r="3.3"/><circle cx="679.6" cy="1609.2" r="3.3"/><circle cx="702.7" cy="1642.8" r="3.3"/><circle cx="638.5" cy="1649.4" r="3.3"/><circle cx="699.1" cy="1603.5" r="3.3"/><circle cx="640.2" cy="1633.6" r="3.3"/><circle cx="668.9" cy="1619.0" r="3.3"/><circle cx="684.8" cy="1638.5" r="3.3"/><circle cx="699.2" cy="1640.5" r="3.3"/><circle cx="720.1" cy="1640.4" r="3.3"/><circle cx="652.5" cy="1637.9" r="3.3"/><circle cx="658.6" cy="1627.3" r="3.3"/><circle cx="682.0" cy="1635.7" r="3.3"/><circle cx="695.8" cy="1607.3" r="3.3"/><circle cx="654.3" cy="1644.6" r="3.3"/><circle cx="679.2" cy="1631.9" r="3.3"/><circle cx="682.5" cy="1624.1" r="3.3"/><circle cx="700.8" cy="1634.7" r="3.3"/><circle cx="681.9" cy="1625.6" r="3.3"/><circle cx="679.8" cy="1595.6" r="3.3"/><circle cx="660.4" cy="1643.4" r="3.3"/><circle cx="647.9" cy="1650.0" r="3.3"/><circle cx="687.5" cy="1613.2" r="3.3"/><circle cx="678.0" cy="1632.3" r="3.3"/><circle cx="695.0" cy="1640.5" r="3.3"/><circle cx="683.1" cy="1622.5" r="3.3"/><circle cx="680.5" cy="1635.2" r="3.3"/><circle cx="701.6" cy="1633.5" r="3.3"/><circle cx="666.7" cy="1620.5" r="3.3"/><circle cx="675.0" cy="1626.9" r="3.3"/><circle cx="657.3" cy="1642.2" r="3.3"/><circle cx="672.2" cy="1640.5" r="3.3"/><circle cx="696.6" cy="1624.6" r="3.3"/><circle cx="739.8" cy="1611.6" r="3.3"/><circle cx="710.4" cy="1628.0" r="3.3"/><circle cx="666.0" cy="1644.7" r="3.3"/><circle cx="698.5" cy="1665.2" r="3.3"/><circle cx="691.7" cy="1651.6" r="3.3"/><circle cx="702.4" cy="1643.1" r="3.3"/><circle cx="696.2" cy="1628.6" r="3.3"/><circle cx="696.2" cy="1614.8" r="3.3"/><circle cx="712.4" cy="1610.3" r="3.3"/><circle cx="690.0" cy="1664.8" r="3.3"/><circle cx="678.6" cy="1637.1" r="3.3"/><circle cx="711.9" cy="1626.1" r="3.3"/><circle cx="664.6" cy="1645.3" r="3.3"/><circle cx="698.0" cy="1641.0" r="3.3"/><circle cx="665.5" cy="1667.5" r="3.3"/><circle cx="724.0" cy="1621.9" r="3.3"/><circle cx="690.4" cy="1626.4" r="3.3"/><circle cx="717.9" cy="1613.1" r="3.3"/><circle cx="700.2" cy="1622.4" r="3.3"/><circle cx="667.3" cy="1651.3" r="3.3"/><circle cx="716.0" cy="1624.2" r="3.3"/><circle cx="667.7" cy="1652.6" r="3.3"/><circle cx="682.8" cy="1640.1" r="3.3"/><circle cx="720.5" cy="1639.8" r="3.3"/><circle cx="671.5" cy="1673.4" r="3.3"/><circle cx="684.1" cy="1646.8" r="3.3"/><circle cx="668.5" cy="1639.5" r="3.3"/><circle cx="642.0" cy="1675.8" r="3.3"/><circle cx="716.8" cy="1605.8" r="3.3"/><circle cx="647.9" cy="1622.7" r="3.3"/><circle cx="712.2" cy="1618.7" r="3.3"/><circle cx="682.5" cy="1630.8" r="3.3"/><circle cx="681.1" cy="1619.6" r="3.3"/><circle cx="684.6" cy="1613.2" r="3.3"/><circle cx="682.3" cy="1640.2" r="3.3"/><circle cx="695.2" cy="1627.8" r="3.3"/><circle cx="662.3" cy="1644.6" r="3.3"/><circle cx="672.4" cy="1662.4" r="3.3"/><circle cx="702.4" cy="1627.1" r="3.3"/><circle cx="672.7" cy="1628.2" r="3.3"/><circle cx="661.5" cy="1637.2" r="3.3"/><circle cx="691.1" cy="1640.4" r="3.3"/><circle cx="697.7" cy="1661.9" r="3.3"/><circle cx="667.1" cy="1640.8" r="3.3"/><circle cx="671.5" cy="1641.7" r="3.3"/><circle cx="687.7" cy="1639.9" r="3.3"/><circle cx="678.3" cy="1642.4" r="3.3"/><circle cx="685.3" cy="1646.1" r="3.3"/><circle cx="638.6" cy="1636.9" r="3.3"/><circle cx="683.9" cy="1619.5" r="3.3"/><circle cx="658.9" cy="1652.8" r="3.3"/><circle cx="668.4" cy="1649.7" r="3.3"/><circle cx="701.9" cy="1633.6" r="3.3"/><circle cx="696.2" cy="1629.4" r="3.3"/><circle cx="650.2" cy="1645.8" r="3.3"/><circle cx="694.9" cy="1623.4" r="3.3"/><circle cx="681.6" cy="1647.0" r="3.3"/><circle cx="662.9" cy="1651.6" r="3.3"/><circle cx="728.7" cy="1611.8" r="3.3"/><circle cx="687.5" cy="1631.6" r="3.3"/><circle cx="721.0" cy="1627.4" r="3.3"/><circle cx="705.5" cy="1617.5" r="3.3"/><circle cx="683.6" cy="1635.0" r="3.3"/><circle cx="641.4" cy="1670.8" r="3.3"/><circle cx="705.6" cy="1601.6" r="3.3"/><circle cx="701.9" cy="1627.1" r="3.3"/><circle cx="694.8" cy="1636.9" r="3.3"/><circle cx="648.0" cy="1643.8" r="3.3"/><circle cx="719.8" cy="1614.4" r="3.3"/><circle cx="659.5" cy="1622.8" r="3.3"/><circle cx="654.7" cy="1649.8" r="3.3"/><circle cx="724.6" cy="1627.9" r="3.3"/><circle cx="689.9" cy="1666.5" r="3.3"/><circle cx="671.5" cy="1629.0" r="3.3"/><circle cx="696.7" cy="1639.0" r="3.3"/><circle cx="659.6" cy="1625.6" r="3.3"/><circle cx="691.0" cy="1636.4" r="3.3"/><circle cx="652.6" cy="1642.4" r="3.3"/><circle cx="671.0" cy="1646.2" r="3.3"/><circle cx="681.2" cy="1634.6" r="3.3"/><circle cx="675.5" cy="1653.6" r="3.3"/><circle cx="717.4" cy="1618.4" r="3.3"/><circle cx="704.3" cy="1616.9" r="3.3"/><circle cx="685.7" cy="1645.7" r="3.3"/><circle cx="720.3" cy="1617.1" r="3.3"/><circle cx="682.2" cy="1638.5" r="3.3"/><circle cx="648.0" cy="1647.2" r="3.3"/><circle cx="667.8" cy="1646.0" r="3.3"/><circle cx="656.9" cy="1614.4" r="3.3"/><circle cx="684.9" cy="1638.6" r="3.3"/><circle cx="670.8" cy="1652.7" r="3.3"/><circle cx="677.4" cy="1628.1" r="3.3"/><circle cx="695.5" cy="1607.7" r="3.3"/><circle cx="667.7" cy="1640.1" r="3.3"/><circle cx="704.4" cy="1625.8" r="3.3"/><circle cx="691.4" cy="1622.7" r="3.3"/><circle cx="691.2" cy="1657.5" r="3.3"/><circle cx="667.5" cy="1676.0" r="3.3"/><circle cx="668.5" cy="1640.4" r="3.3"/><circle cx="688.2" cy="1649.0" r="3.3"/><circle cx="654.3" cy="1613.4" r="3.3"/><circle cx="698.5" cy="1642.1" r="3.3"/><circle cx="699.0" cy="1669.5" r="3.3"/><circle cx="688.9" cy="1637.2" r="3.3"/><circle cx="706.3" cy="1633.1" r="3.3"/><circle cx="723.9" cy="1603.1" r="3.3"/><circle cx="703.5" cy="1622.9" r="3.3"/><circle cx="706.2" cy="1659.9" r="3.3"/><circle cx="683.9" cy="1631.2" r="3.3"/><circle cx="672.0" cy="1626.4" r="3.3"/><circle cx="668.9" cy="1649.6" r="3.3"/><circle cx="684.9" cy="1635.7" r="3.3"/><circle cx="679.8" cy="1650.1" r="3.3"/><circle cx="695.9" cy="1628.9" r="3.3"/><circle cx="700.0" cy="1627.4" r="3.3"/><circle cx="656.3" cy="1666.1" r="3.3"/><circle cx="695.2" cy="1616.9" r="3.3"/></g>
<rect x="108.75" y="992" width="757" height="756.5" fill="none" stroke="#000" stroke-width="2.8"/>
<rect x="485.2" y="992" width="4" height="756.5" fill="#000"/>
<rect x="108.75" y="1368.2" width="757" height="4" fill="#000"/>
<g fill="#000"><rect x="826.6" y="993" width="3" height="6"/><rect x="826.6" y="1362" width="3" height="16"/><rect x="788.7" y="993" width="3" height="6"/><rect x="788.7" y="1362" width="3" height="16"/><rect x="750.8" y="993" width="3" height="6"/><rect x="750.8" y="1362" width="3" height="16"/><rect x="712.9" y="993" width="3" height="6"/><rect x="712.9" y="1362" width="3" height="16"/><rect x="675.0" y="993" width="3" height="6"/><rect x="675.0" y="1362" width="3" height="16"/><rect x="637.1" y="993" width="3" height="6"/><rect x="637.1" y="1362" width="3" height="16"/><rect x="599.2" y="993" width="3" height="6"/><rect x="599.2" y="1362" width="3" height="16"/><rect x="561.3" y="993" width="3" height="6"/><rect x="561.3" y="1362" width="3" height="16"/><rect x="523.4000000000001" y="993" width="3" height="6"/><rect x="523.4000000000001" y="1362" width="3" height="16"/><rect x="788.7" y="1740" width="3" height="7"/><rect x="712.9" y="1740" width="3" height="7"/><rect x="637.1" y="1740" width="3" height="7"/><rect x="561.3" y="1740" width="3" height="7"/><rect x="859" y="1305.5" width="7" height="3"/><rect x="487" y="1305.5" width="7" height="3"/><rect x="859" y="1242.5" width="7" height="3"/><rect x="487" y="1242.5" width="7" height="3"/><rect x="859" y="1179.5" width="7" height="3"/><rect x="487" y="1179.5" width="7" height="3"/><rect x="859" y="1116.5" width="7" height="3"/><rect x="487" y="1116.5" width="7" height="3"/><rect x="859" y="1053.5" width="7" height="3"/><rect x="487" y="1053.5" width="7" height="3"/><rect x="859" y="1444.3" width="7" height="3"/><rect x="859" y="1520.1" width="7" height="3"/><rect x="859" y="1595.9" width="7" height="3"/><rect x="859" y="1671.7" width="7" height="3"/><rect x="110" y="1406.4" width="6" height="3"/><rect x="481" y="1406.4" width="6" height="3"/><rect x="110" y="1444.3" width="6" height="3"/><rect x="481" y="1444.3" width="6" height="3"/><rect x="487" y="1444.3" width="7.5" height="3"/><rect x="110" y="1482.2" width="6" height="3"/><rect x="481" y="1482.2" width="6" height="3"/><rect x="110" y="1520.1" width="6" height="3"/><rect x="481" y="1520.1" width="6" height="3"/><rect x="487" y="1520.1" width="7.5" height="3"/><rect x="110" y="1558.0" width="6" height="3"/><rect x="481" y="1558.0" width="6" height="3"/><rect x="110" y="1595.9" width="6" height="3"/><rect x="481" y="1595.9" width="6" height="3"/><rect x="487" y="1595.9" width="7.5" height="3"/><rect x="110" y="1633.8" width="6" height="3"/><rect x="481" y="1633.8" width="6" height="3"/><rect x="110" y="1671.7" width="6" height="3"/><rect x="481" y="1671.7" width="6" height="3"/><rect x="487" y="1671.7" width="7.5" height="3"/><rect x="110" y="1709.6" width="6" height="3"/><rect x="481" y="1709.6" width="6" height="3"/><rect x="431.7" y="1371" width="3" height="6"/><rect x="431.7" y="1740" width="3" height="7"/><rect x="377.9" y="1371" width="3" height="6"/><rect x="377.9" y="1740" width="3" height="7"/><rect x="324.1" y="1371" width="3" height="6"/><rect x="324.1" y="1740" width="3" height="7"/><rect x="270.3" y="1371" width="3" height="6"/><rect x="270.3" y="1740" width="3" height="7"/><rect x="216.5" y="1371" width="3" height="6"/><rect x="216.5" y="1740" width="3" height="7"/><rect x="162.70000000000005" y="1371" width="3" height="6"/><rect x="162.70000000000005" y="1740" width="3" height="7"/></g>
<text x="870.7" y="1003.7" font-size="27" text-anchor="start" font-weight="normal" fill="#111" stroke="#111" stroke-width="1.0" textLength="33.8" lengthAdjust="spacingAndGlyphs" >120</text>
<text x="870.7" y="1129.8" font-size="27" text-anchor="start" font-weight="normal" fill="#111" stroke="#111" stroke-width="1.0" textLength="23.8" lengthAdjust="spacingAndGlyphs" >80</text>
<text x="870.7" y="1254.7" font-size="27" text-anchor="start" font-weight="normal" fill="#111" stroke="#111" stroke-width="1.0" textLength="23.8" lengthAdjust="spacingAndGlyphs" >40</text>
<text x="870.7" y="1366.8" font-size="27" text-anchor="start" font-weight="normal" fill="#111" stroke="#111" stroke-width="1.0" textLength="11.3" lengthAdjust="spacingAndGlyphs" >0</text>
<text x="869.6" y="1454.9" font-size="27" text-anchor="start" font-weight="normal" fill="#111" stroke="#111" stroke-width="1.0" textLength="46.5" lengthAdjust="spacingAndGlyphs" >1000</text>
<text x="869.9" y="1605.4" font-size="27" text-anchor="start" font-weight="normal" fill="#111" stroke="#111" stroke-width="1.0" textLength="35" lengthAdjust="spacingAndGlyphs" >800</text>
<text x="146.29999999999998" y="1772.6" font-size="27" text-anchor="start" font-weight="normal" fill="#111" stroke="#111" stroke-width="1.0" textLength="35.20000000000001" lengthAdjust="spacingAndGlyphs" >120</text>
<text x="258.0" y="1772.6" font-size="27" text-anchor="start" font-weight="normal" fill="#111" stroke="#111" stroke-width="1.0" textLength="24.599999999999987" lengthAdjust="spacingAndGlyphs" >80</text>
<text x="367.0" y="1772.6" font-size="27" text-anchor="start" font-weight="normal" fill="#111" stroke="#111" stroke-width="1.0" textLength="23.599999999999987" lengthAdjust="spacingAndGlyphs" >40</text>
<text x="478.8" y="1772.6" font-size="27" text-anchor="start" font-weight="normal" fill="#111" stroke="#111" stroke-width="1.0" textLength="12.599999999999989" lengthAdjust="spacingAndGlyphs" >0</text>
<text x="539.6" y="1772.6" font-size="27" text-anchor="start" font-weight="normal" fill="#111" stroke="#111" stroke-width="1.0" textLength="46.50000000000002" lengthAdjust="spacingAndGlyphs" >1000</text>
<text x="697.8000000000001" y="1772.6" font-size="27" text-anchor="start" font-weight="normal" fill="#111" stroke="#111" stroke-width="1.0" textLength="36.4" lengthAdjust="spacingAndGlyphs" >800</text>
<text x="847.8000000000001" y="1772.6" font-size="27" text-anchor="start" font-weight="normal" fill="#111" stroke="#111" stroke-width="1.0" textLength="36.9" lengthAdjust="spacingAndGlyphs" >600</text>
<text x="247" y="1817.2" font-size="25.5" text-anchor="start" font-weight="normal" fill="#111" stroke="#111" stroke-width="1.0" textLength="102" lengthAdjust="spacingAndGlyphs" >frequency</text>
<text x="603.3" y="1816.3" font-size="25.5" text-anchor="start" font-weight="normal" fill="#111" stroke="#111" stroke-width="1.0" textLength="144" lengthAdjust="spacingAndGlyphs" >long axis (nm)</text>
<g transform="translate(937,1233.5) rotate(-90)"><text x="0" y="0" font-size="25.5" text-anchor="start" font-weight="normal" fill="#111" stroke="#111" stroke-width="1.0" textLength="102" lengthAdjust="spacingAndGlyphs" >frequency</text></g>
<g transform="translate(938.5,1636.8) rotate(-90)"><text x="0" y="0" font-size="25.5" text-anchor="start" font-weight="normal" fill="#111" stroke="#111" stroke-width="1.0" textLength="154" lengthAdjust="spacingAndGlyphs" >short axis (nm)</text></g></svg>
</body></html>
